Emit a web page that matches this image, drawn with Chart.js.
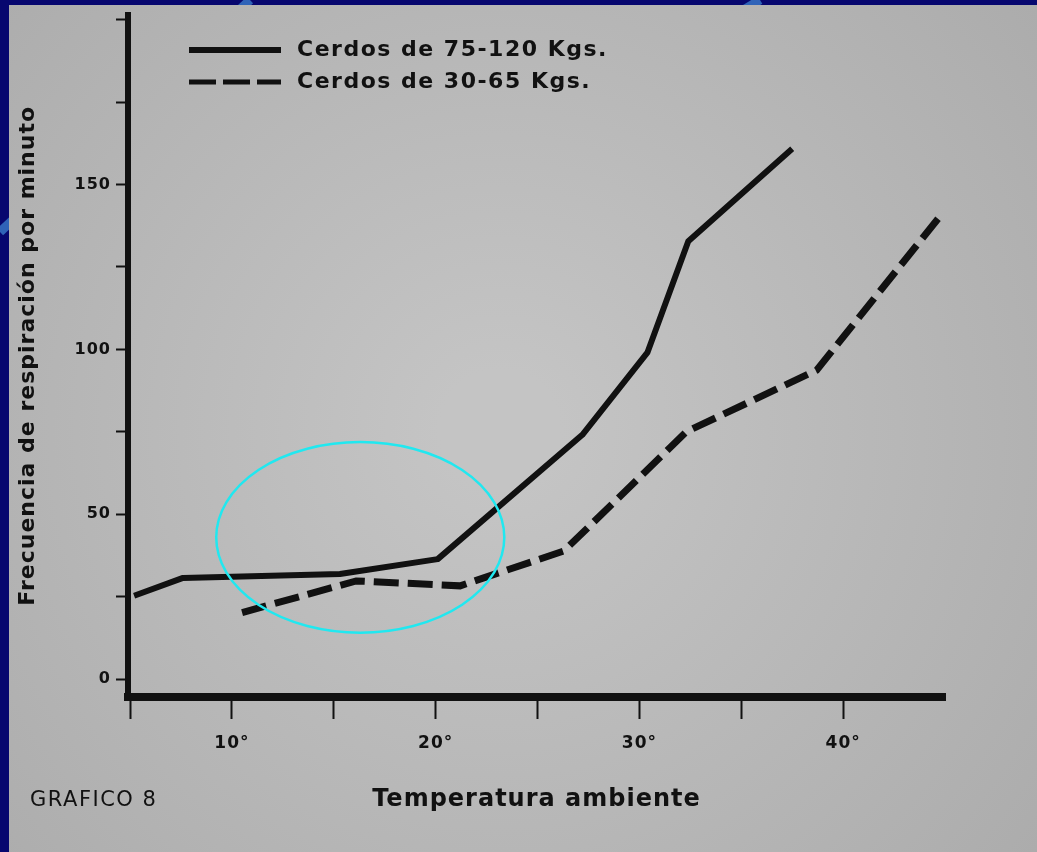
<!DOCTYPE html>
<html>
<head>
<meta charset="utf-8">
<script src="https://cdn.jsdelivr.net/npm/chart.js@4.4.1/dist/chart.umd.min.js"></script>
<style>
  html, body { margin: 0; padding: 0; background: #07076f; overflow: hidden; }
  #grafico { position: absolute; left: 0; top: 0; }
</style>
</head>
<body>
<canvas id="grafico" width="1037" height="852"></canvas>
<script>
const tempGrande = [5.2, 7.6, 15.3, 20.1, 27.2, 30.4, 32.4, 37.5];
const respGrande = [25.3, 30.7, 31.9, 36.4, 74.1, 99.1, 132.8, 160.8];
const tempChico = [10.5, 16.1, 21.2, 26.3, 32.3, 38.7, 44.8];
const respChico = [20.2, 29.8, 28.3, 38.9, 75.0, 93.7, 140.7];

const xTicks = [5, 10, 15, 20, 25, 30, 35, 40];
const xLabels = ["", "10°", "", "20°", "", "30°", "", "40°"];
const yTicks = [0, 25, 50, 75, 100, 125, 150, 175, 200];
const yLabels = ["0", "", "50", "", "100", "", "150", "", ""];

const nombres = ["Cerdos de 75-120 Kgs.", "Cerdos de 30-65 Kgs."];

const tinta = "#111111";
const fuente = "'DejaVu Sans', 'Liberation Sans', sans-serif";

function puntos(xs, ys) {
  return xs.map((x, i) => ({ x: x, y: ys[i] }));
}

// fondo azul con trazos claros y hoja de papel gris
const hoja = {
  id: "hoja",
  beforeDraw(chart) {
    const ctx = chart.ctx;
    ctx.save();
    ctx.strokeStyle = "#2f63b8";
    ctx.lineWidth = 9;
    ctx.beginPath();
    ctx.moveTo(0, 232);
    ctx.quadraticCurveTo(120, 120, 250, 0);
    ctx.stroke();
    ctx.beginPath();
    ctx.moveTo(760, 0);
    ctx.lineTo(740, 12);
    ctx.stroke();
    const g = ctx.createRadialGradient(500, 430, 60, 500, 430, 760);
    g.addColorStop(0, "#c4c4c4");
    g.addColorStop(1, "#a9a9a9");
    ctx.fillStyle = g;
    ctx.fillRect(9, 5, chart.width - 9, chart.height - 5);
    ctx.restore();
    ctx.letterSpacing = "1px";
  }
};

// leyenda, rotulo y circulo cian
const extras = {
  id: "extras",
  afterDraw(chart) {
    const ctx = chart.ctx;
    ctx.save();
    ctx.fillStyle = tinta;
    ctx.strokeStyle = tinta;
    ctx.font = "bold 22px " + fuente;
    ctx.letterSpacing = "1.5px";
    ctx.textBaseline = "middle";
    chart.data.datasets.forEach((ds, i) => {
      const y = 50 + i * 32;
      ctx.lineWidth = i === 0 ? 6 : 5;
      ctx.setLineDash(i === 0 ? [] : [27, 7]);
      ctx.beginPath();
      ctx.moveTo(189, y);
      ctx.lineTo(281, y);
      ctx.stroke();
      ctx.setLineDash([]);
      ctx.fillText(ds.label, 297, y);
    });

    ctx.font = "21px " + fuente;
    ctx.letterSpacing = "1.5px";
    ctx.fillText("GRAFICO 8", 30, 801);

    const xs = chart.scales.x, ys = chart.scales.y;
    const cx = xs.getPixelForValue(16.3), cy = ys.getPixelForValue(43);
    const rx = cx - xs.getPixelForValue(16.3 - 7.07);
    const ry = ys.getPixelForValue(43 - 28.9) - cy;
    ctx.strokeStyle = "#20e8f0";
    ctx.lineWidth = 2.5;
    ctx.beginPath();
    ctx.ellipse(cx, cy, rx, ry, 0, 0, Math.PI * 2);
    ctx.stroke();
    ctx.restore();
  }
};

new Chart(document.getElementById("grafico"), {
  type: "line",
  data: {
    datasets: [
      {
        label: nombres[0],
        data: puntos(tempGrande, respGrande),
        borderColor: tinta,
        borderWidth: 6,
        borderJoinStyle: "round",
        pointRadius: 0,
        tension: 0,
      },
      {
        label: nombres[1],
        data: puntos(tempChico, respChico),
        borderColor: tinta,
        borderWidth: 7,
        borderDash: [25, 9],
        pointRadius: 0,
        tension: 0,
      },
    ],
  },
  options: {
    responsive: false,
    animation: false,
    layout: { padding: { top: 10, right: 92, left: 0, bottom: 0 } },
    plugins: { legend: { display: false }, tooltip: { enabled: false } },
    scales: {
      x: {
        type: "linear",
        min: 4.9,
        max: 45,
        afterFit(s) { s.height = 155; },
        afterBuildTicks(s) { s.ticks = xTicks.map(v => ({ value: v })); },
        grid: { drawOnChartArea: false, tickLength: 22, tickWidth: 2, tickColor: tinta },
        border: { display: true, color: tinta, width: 8 },
        ticks: {
          color: tinta,
          padding: 14,
          maxRotation: 0,
          font: { family: fuente, size: 17, weight: "bold" },
          callback: v => xLabels[xTicks.indexOf(v)] ?? "",
        },
        title: {
          display: true,
          text: "Temperatura ambiente",
          color: tinta,
          font: { family: fuente, size: 24, weight: "bold" },
          padding: { top: 0, bottom: 38 },
        },
      },
      y: {
        min: -5.4,
        max: 201.5,
        afterFit(s) { s.width = 128; },
        afterBuildTicks(s) { s.ticks = yTicks.map(v => ({ value: v })); },
        grid: { drawOnChartArea: false, tickLength: 12, tickWidth: 2, tickColor: tinta },
        border: { display: true, color: tinta, width: 6 },
        ticks: {
          color: tinta,
          padding: 5,
          font: { family: fuente, size: 16, weight: "bold" },
          callback: v => yLabels[yTicks.indexOf(v)] ?? "",
        },
        title: {
          display: true,
          text: "Frecuencia de respiración por minuto",
          color: tinta,
          font: { family: fuente, size: 22, weight: "bold" },
          padding: { top: 15, bottom: 0 },
        },
      },
    },
  },
  plugins: [hoja, extras],
});
</script>
</body>
</html>
